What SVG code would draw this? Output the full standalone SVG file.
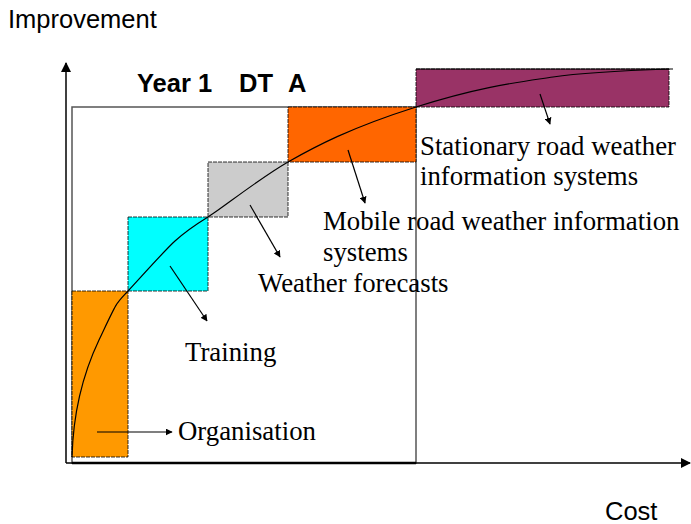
<svg xmlns="http://www.w3.org/2000/svg" width="691" height="524" viewBox="0 0 691 524">
  <style>
    .sans { font-family: "Liberation Sans", Arial, sans-serif; fill: #000; }
    .serif { font-family: "Liberation Serif", "Times New Roman", serif; font-size: 26.8px; fill: #000; }
    .step { stroke: #000; stroke-width: 0.8; stroke-dasharray: 4 1; }
    .pointer { stroke: #000; stroke-width: 1.2; fill: none; marker-end: url(#tip); }
    .axis { stroke: #000; stroke-width: 1.5; fill: none; }
  </style>
  <defs>
    <marker id="tip" viewBox="0 0 10 10" refX="9" refY="5" markerWidth="7" markerHeight="7" orient="auto" markerUnits="userSpaceOnUse">
      <path d="M0,0 L10,5 L0,10 z" fill="#000"/>
    </marker>
    <marker id="axisTip" viewBox="0 0 10 10" refX="9" refY="5" markerWidth="10" markerHeight="10" orient="auto" markerUnits="userSpaceOnUse">
      <path d="M0,0 L10,5 L0,10 z" fill="#000"/>
    </marker>
  </defs>
  <rect width="691" height="524" fill="#fff"/>

  <!-- budget frame -->
  <rect x="72" y="107" width="344" height="356" fill="none" stroke="#555" stroke-width="1.5"/>

  <!-- measure steps -->
  <g id="organisation">
    <rect class="step" x="72" y="291" width="56" height="166" fill="#FF9900"/>
  </g>
  <g id="training">
    <rect class="step" x="128" y="217" width="80" height="74" fill="#00FFFF"/>
  </g>
  <g id="weather-forecasts">
    <rect class="step" x="208" y="162" width="80" height="55" fill="#CCCCCC"/>
  </g>
  <g id="mobile-rwis">
    <rect class="step" x="288" y="107" width="128" height="55" fill="#FF6600"/>
  </g>
  <g id="stationary-rwis">
    <rect class="step" x="416" y="69" width="253" height="38" fill="#993366"/>
    <line x1="416" y1="69" x2="673" y2="69" stroke="#000" stroke-width="1"/>
  </g>

  <!-- axes -->
  <g id="axes">
    <line class="axis" x1="66" y1="463" x2="66" y2="63" marker-end="url(#axisTip)"/>
    <line class="axis" x1="66" y1="463" x2="690" y2="463" marker-end="url(#axisTip)"/>
    <line x1="72" y1="463" x2="416" y2="463" stroke="#000" stroke-width="2.5"/>
  </g>

  <!-- connectors: improvement curve and label pointers -->
  <g id="connectors">
    <path fill="none" stroke="#000" stroke-width="1.2" d="M72,457 C73,420 80,380 99,340 S115,305 128,291 S165,250 175,241 S195,225 208,217 S260,178 288,162 S350,128 416,107 S520,82 553,77 S640,70 669,69"/>
    <line class="pointer" x1="97" y1="432" x2="172" y2="432"/>
    <line class="pointer" x1="170" y1="266" x2="207" y2="321"/>
    <line class="pointer" x1="250" y1="205" x2="280" y2="257"/>
    <line class="pointer" x1="348" y1="150" x2="365" y2="203"/>
    <line class="pointer" x1="540" y1="94" x2="550" y2="124"/>
  </g>

  <!-- labels -->
  <text class="sans" x="8" y="28" font-size="25.5">Improvement</text>
  <text class="sans" x="605" y="520" font-size="25.5">Cost</text>
  <text class="sans" font-size="25.5" font-weight="bold" y="92"><tspan x="137">Year 1</tspan><tspan x="239">DT</tspan><tspan x="288">A</tspan></text>

  <text class="serif" x="178" y="440">Organisation</text>
  <text class="serif" x="185" y="361">Training</text>
  <text class="serif" x="258" y="292">Weather forecasts</text>
  <text class="serif" x="323" y="230">Mobile road weather information</text>
  <text class="serif" x="323" y="261">systems</text>
  <text class="serif" x="420" y="155">Stationary road weather</text>
  <text class="serif" x="420" y="185">information systems</text>
</svg>
